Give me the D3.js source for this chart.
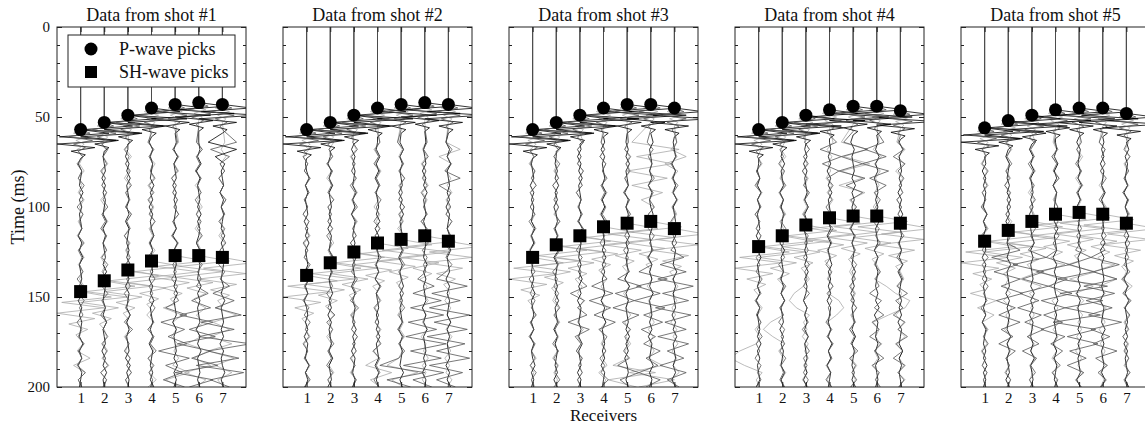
<!DOCTYPE html>
<html>
<head>
<meta charset="utf-8">
<script src="https://d3js.org/d3.v7.min.js"></script>
<style>
body { margin: 0; background: #fff; }
text { font-family: "Liberation Serif", "Times New Roman", serif; fill: #111; }
</style>
</head>
<body>
<div id="my_dataviz"></div>
<script>
// ---- data ----
var shots = ["Data from shot #1", "Data from shot #2", "Data from shot #3", "Data from shot #4", "Data from shot #5"];
var receivers = [1, 2, 3, 4, 5, 6, 7];
var yTicks = [0, 50, 100, 150, 200];

// picks (ms), one row per shot, one value per receiver
var pPicks = [
  [57, 53, 49, 45, 43, 42, 43],
  [57, 53, 49, 45, 43, 42, 43],
  [57, 53, 49, 45, 43, 43, 45],
  [57, 53, 49, 46, 44, 44, 46.5],
  [56, 52, 49, 46, 45, 45, 48]
];
var shPicks = [
  [147, 141, 135, 130, 127, 127, 128],
  [138, 131, 125, 120, 118, 116, 119],
  [128, 121, 116, 111, 109, 108, 112],
  [122, 116, 110, 106, 105, 105, 109],
  [119, 113, 108, 104, 103, 104, 109]
];

// wavelets: [ms after pick, amplitude in receiver spacings]
var pWaveZ = [[0, 0], [2, 1.2], [4, -0.9], [6, 1.5], [8, -1.0], [10, 0.6], [12, -0.4], [14, 0.2], [16, 0]];
var pWaveR = [[0, 0], [2, 0.4], [4, -0.5], [6, 0.5], [8, -0.3], [10, 0.2], [12, -0.1], [14, 0]];
var pWaveT = [[0, 0], [2, -0.3], [4, 0.3], [6, -0.2], [8, 0.15], [10, 0]];
var shWaveT = [[0, 0], [3, 1.3], [6, -0.8], [9, 1.0], [12, -1.0], [15, 0.6], [18, -0.5], [21, 0.3], [24, -0.2], [27, 0]];

// coda samples every 4 ms from 64 ms, in twentieths of a receiver spacing
var codaStart = 64, codaStep = 4, codaUnit = 0.05;

var codaZ = [
  [[2,-1,1,-2,1,0,-1,2,-1,1,-1,0,1,-2,1,-1,2,-1,0,1,-1,2,-2,1,-1,1,0,-1,2,-1,1,-2,1,0,-1],
   [-1,2,-1,0,1,-2,1,-1,1,0,-1,2,-1,1,-1,0,1,-1,2,-2,1,0,-1,1,-1,2,-1,0,1,-2,1,-1,2,-1,0],
   [1,0,-2,1,-1,2,-1,0,1,-1,1,-2,1,0,-1,1,-1,2,-1,1,-2,1,0,-1,2,-1,1,-1,0,1,-2,2,-1,1,0],
   [-2,1,-1,1,0,-1,2,-1,1,-2,1,-1,0,2,-1,1,-1,0,1,-2,1,-1,2,-1,0,1,-1,1,-2,1,0,-1,1,-1,2],
   [1,-1,2,-1,0,1,-2,1,-1,1,0,-1,1,-2,2,-1,0,1,-1,1,-1,2,-1,0,1,-2,1,-1,0,1,-1,2,-1,1,-1],
   [0,1,-1,2,-2,1,-1,0,1,-1,2,-1,1,0,-2,1,-1,1,0,-1,2,-1,1,-1,0,1,-2,1,-1,2,-1,0,1,-1,1],
   [-12,12,-6,2,-1,0,1,-2,1,-1,1,0,-1,2,-1,1,-2,1,0,-1,1,-1,2,-1,0,1,-1,1,-2,1,-1,0,2,-1,1]],
  [[1,-2,1,-1,0,2,-1,1,-1,0,1,-2,1,-1,2,-1,0,1,-1,2,-1,1,-2,0,1,-1,1,-2,1,0,-1,2,-1,1,-1],
   [-1,1,0,-2,1,-1,2,-1,0,1,-1,1,-2,1,0,-1,2,-1,1,-1,0,2,-1,1,-2,1,-1,0,1,-1,2,-1,0,1,-2],
   [2,-2,1,-1,1,0,-1,2,-1,1,-2,1,0,-1,1,-1,2,-1,0,1,-2,1,-1,1,0,-1,2,-1,1,-2,1,0,-1,1,-1],
   [0,-1,2,-1,1,-2,1,-1,0,1,-1,2,-2,1,-1,0,1,-1,1,-2,2,-1,0,1,-1,1,-1,2,-1,0,1,-2,1,-1,1],
   [-1,2,-1,1,-1,0,1,-2,1,-1,2,-1,0,1,-1,1,-2,1,-1,0,2,-1,1,-1,0,1,-2,1,-1,1,0,-1,2,-1,1],
   [1,-1,0,1,-2,1,-1,2,-1,0,1,-1,1,-2,1,0,-1,2,-1,1,-1,0,1,-2,1,-1,2,-1,0,1,-1,1,-2,1,0],
   [-2,1,-1,2,-1,0,1,-1,1,-2,1,0,-1,1,-1,2,-1,0,1,-2,1,-1,1,0,-1,2,-1,1,-1,0,1,-2,1,-1,2]],
  [[1,-1,2,-1,0,1,-2,1,-1,1,0,-1,2,-1,1,-2,1,0,-1,1,-1,2,-1,0,1,-1,1,-2,1,-1,0,2,-1,1,-1],
   [-2,1,0,-1,1,-1,2,-1,1,-2,0,1,-1,1,-1,2,-2,1,0,-1,1,-1,2,-1,0,1,-2,1,-1,1,0,-1,1,-2,1],
   [0,1,-2,1,-1,2,-1,0,1,-1,1,-1,2,-2,1,0,-1,1,-1,2,-1,1,-2,1,0,-1,1,-1,2,-1,0,1,-2,1,-1],
   [1,-2,1,-1,0,1,-1,2,-1,1,-2,1,-1,0,1,-1,2,-1,1,-1,0,1,-2,1,-1,2,-1,0,1,-1,1,-2,1,0,-1],
   [-1,1,-1,2,-1,0,1,-2,1,-1,1,0,-1,2,-1,1,-1,0,1,-2,2,-1,1,-1,0,1,-1,2,-1,1,-2,0,1,-1,1],
   [2,-1,0,1,-1,1,-2,1,-1,0,2,-1,1,-1,0,1,-2,1,-1,1,-1,2,-1,0,1,-1,1,-2,1,0,-1,2,-1,1,-1],
   [-1,0,1,-2,1,-1,1,-1,2,-1,0,1,-1,1,-2,1,0,-1,2,-1,1,-1,0,1,-2,1,-1,2,-1,0,1,-1,1,-2,1]],
  [[1,-2,1,0,-1,1,-1,2,-1,1,-1,0,1,-2,1,-1,2,-1,0,1,-1,1,-2,1,-1,0,1,-1,2,-1,1,-1,0,1,-2],
   [-1,1,-1,2,-1,0,1,-2,1,-1,1,0,-1,1,-2,2,-1,0,1,-1,1,-1,2,-1,0,1,-2,1,-1,1,0,-1,2,-1,1],
   [2,-1,1,-2,1,-1,0,1,-1,2,-1,1,-2,0,1,-1,1,-1,2,-1,1,0,-2,1,-1,1,-1,2,-1,0,1,-1,1,-2,1],
   [0,1,-1,1,-2,1,-1,2,-1,0,1,-1,1,-2,1,-1,0,2,-1,1,-1,1,-2,1,0,-1,1,-1,2,-1,1,-2,1,0,-1],
   [-2,1,-1,0,1,-1,2,-1,1,-1,0,1,-2,1,-1,1,0,-1,2,-1,1,-2,1,-1,0,1,-1,2,-1,1,0,-1,1,-1,2],
   [1,-1,2,-1,1,-2,0,1,-1,1,-1,2,-1,0,1,-2,1,-1,1,0,-1,1,-1,2,-2,1,0,-1,1,-1,2,-1,0,1,-1],
   [-1,2,-1,0,1,-1,1,-2,1,-1,2,-1,0,1,-1,1,-1,2,-2,1,0,-1,1,-1,1,-2,1,0,-1,2,-1,1,-1,0,1]],
  [[2,-1,0,1,-2,1,-1,1,0,-1,2,-1,1,-1,0,1,-2,1,-1,2,-1,0,1,-1,1,-2,1,0,-1,1,-1,2,-1,1,-1],
   [-1,1,-2,1,0,-1,1,-1,2,-1,1,-2,1,0,-1,1,-1,2,-1,0,1,-2,1,-1,1,0,-1,2,-1,1,-1,0,1,-2,1],
   [1,-2,1,-1,2,-1,0,1,-1,1,-2,1,-1,0,2,-1,1,-1,0,1,-1,2,-1,1,-2,1,0,-1,1,-1,2,-1,0,1,-1],
   [0,1,-1,2,-1,1,-2,1,0,-1,1,-1,2,-1,0,1,-2,1,-1,1,-1,0,2,-1,1,-1,0,1,-2,1,-1,1,0,-1,2],
   [-2,1,0,-1,1,-1,2,-1,1,-2,1,0,-1,1,-1,2,-1,0,1,-1,1,-2,1,-1,0,1,-1,2,-1,1,-1,0,1,-2,1],
   [1,-1,1,-2,1,0,-1,2,-1,1,-1,0,1,-1,2,-2,1,-1,0,1,-1,1,-2,1,0,-1,2,-1,1,-1,0,1,-1,2,-1],
   [-1,2,-1,1,0,-1,1,-2,1,-1,1,0,-1,2,-1,1,-1,0,1,-2,1,-1,2,-1,0,1,-1,1,-2,1,-1,0,1,-1,2]]
];

var codaR = [
  [[3,-2,2,-3,1,-2,3,-1,2,-3,2,-1,1,-2,3,-2,1,-1,2,-3,2,-2,3,-1,2,-3,1,-2,3,-2,1,-3,4,-2,1],
   [-2,3,-1,2,-3,1,-2,2,-1,3,-2,1,-3,2,-1,2,-2,3,-1,1,-2,3,-2,1,-3,2,-1,3,-2,2,-1,3,-3,2,-1],
   [2,-3,1,-2,2,-1,3,-2,1,-2,3,-1,2,-3,1,-1,2,-2,3,-1,2,-3,1,-2,2,-3,4,-2,1,-3,2,-1,3,-2,1],
   [-3,2,-2,1,-1,3,-2,2,-3,1,-2,3,-1,2,-2,1,-3,2,-1,3,-2,1,-2,3,-1,2,-3,2,-1,4,-3,2,-2,1,-1],
   [2,-2,3,-1,2,-3,1,-2,2,-1,3,-2,1,-3,2,-1,2,-2,1,-3,2,-1,3,-8,10,-12,8,-6,10,-14,12,-8,6,-10,8],
   [-2,3,-2,1,-3,2,-1,2,-3,1,-2,2,-1,3,-2,1,-2,3,-1,2,-2,8,-6,10,-16,12,-8,14,-18,10,-6,16,-20,12,-8],
   [12,-10,6,-2,2,-3,1,-2,3,-1,2,-3,2,-1,3,-2,1,-3,2,-2,6,-8,10,-6,16,-18,10,-20,24,-12,14,-22,18,-10,6]],
  [[-2,2,-3,1,-2,3,-1,2,-2,1,-3,2,-1,2,-3,1,-2,3,-1,2,-2,1,-3,2,-2,3,-1,2,-3,1,-2,2,-1,3,-2],
   [3,-1,2,-3,2,-1,1,-2,3,-2,1,-2,2,-3,1,-1,3,-2,2,-1,2,-3,1,-2,4,-3,2,-1,3,-2,1,-3,2,-2,1],
   [-1,3,-2,1,-2,2,-3,1,-1,3,-2,2,-1,2,-3,2,-1,1,-2,3,-1,2,-3,4,-2,1,-2,3,-1,2,-3,1,-2,2,-1],
   [2,-2,1,-3,2,-1,2,-2,3,-1,1,-3,2,-2,1,-1,3,-2,1,-2,3,-1,2,-3,1,-2,2,-1,3,-4,2,-1,2,-3,1],
   [-3,2,-1,2,-2,3,-1,1,-2,3,-2,1,-1,2,-3,2,-1,3,-2,1,-2,2,-1,3,-2,1,-3,2,-2,3,-2,-18,20,-12,8],
   [2,-1,3,-2,1,-2,2,-3,1,-1,2,-3,2,-1,3,-2,2,-1,1,-6,8,-10,14,-12,16,-14,10,-16,18,-12,14,-18,16,-10,6],
   [-2,3,-1,2,-3,10,-8,2,-1,2,-2,3,-1,2,-3,1,-2,3,-2,-10,16,-14,10,-16,18,-12,16,-18,14,-10,18,-16,12,-10,6]],
  [[2,-3,1,-2,2,-1,3,-2,1,-2,2,-3,1,-1,2,-2,3,-1,2,-3,1,-2,2,-1,3,-2,1,-3,2,-1,2,-2,3,-1,1],
   [-1,2,-2,3,-1,2,-3,1,-2,2,-1,3,-2,1,-2,3,-1,2,-3,1,-2,2,-1,3,-2,2,-1,1,-3,2,-2,1,-1,3,-2],
   [3,-2,1,-2,3,-1,2,-3,1,-1,2,-2,3,-1,1,-3,2,-2,1,-1,6,-8,4,-2,6,-10,8,-4,1,-3,2,-1,2,-2,1],
   [-2,1,-3,2,-1,3,-2,1,-2,2,-1,3,-2,1,-3,2,-1,2,-2,3,-10,8,-12,6,-8,10,-4,3,-1,2,-3,1,-2,4,-2],
   [1,-2,3,-1,2,-2,1,-3,2,-1,3,-2,1,-2,2,-3,1,-1,2,-8,12,-10,6,-12,10,-4,3,-2,1,-3,2,-8,10,-6,2],
   [-3,2,-2,1,-1,3,-2,2,-1,3,-2,1,-2,3,-1,2,-3,1,-10,14,-12,8,-14,12,-6,10,-8,4,-6,8,-4,6,-10,8,-4],
   [2,-1,2,-3,1,-2,3,-1,2,-2,1,-3,2,-1,2,-3,8,-12,10,-14,16,-10,12,-16,14,-8,10,-14,12,-6,8,-12,10,-6,4]],
  [[-2,3,-1,2,-2,1,-3,2,-1,2,-3,1,-2,2,-1,3,-2,1,-2,3,-1,2,-3,1,-2,2,-1,3,-2,1,-3,2,-1,2,-2],
   [2,-2,1,-3,2,-1,3,-2,1,-2,2,-1,3,-2,1,-1,2,-3,1,-2,3,-1,2,-2,1,-3,2,-1,2,-2,3,-1,1,-2,2],
   [-1,3,-2,2,-3,1,-2,3,-1,2,-2,1,-3,2,-1,2,-2,3,-1,1,-2,3,-2,1,-1,2,-3,2,-1,3,-2,1,-2,2,-1],
   [6,-8,10,-6,8,-2,3,-1,2,-3,1,-2,3,-1,2,-2,1,-3,2,-1,3,-2,2,-1,1,-3,2,-2,3,-1,2,-2,1,-3,2],
   [-8,12,-10,8,-12,10,-6,8,-2,3,-2,1,-3,2,-1,2,-2,3,-1,2,-3,1,-2,3,-1,2,-3,1,-2,4,-3,2,-1,3,-2],
   [6,-10,8,-12,10,-6,8,-2,3,-1,2,-3,2,-1,3,-2,1,-2,3,-1,2,-6,4,-2,6,-4,2,-6,4,-2,6,-4,2,-1,3],
   [-2,3,-6,4,-2,3,-1,2,-3,1,-2,2,-1,3,-2,1,-3,2,-1,2,-3,6,-4,2,-6,4,-2,6,-4,2,-6,4,-2,3,-1]],
  [[2,-3,1,-2,3,-1,2,-2,1,-3,2,-1,2,-3,1,-2,3,-2,1,-2,3,-1,2,-3,1,-2,2,-1,3,-2,1,-2,2,-1,1],
   [-2,2,-1,3,-2,1,-3,2,-1,2,-2,1,-3,2,-1,10,-14,8,-12,10,-6,12,-10,6,-8,10,-6,4,-8,6,-2,1,-2,2,-1],
   [3,-1,2,-3,1,-2,2,-1,3,-2,1,-2,3,-1,2,-3,12,-16,10,-8,14,-10,6,-12,8,-6,10,-4,6,-8,4,-1,3,-2,1],
   [-1,2,-3,1,-2,3,-2,1,-1,2,-3,2,-1,3,-2,1,-8,12,-16,10,-6,14,-12,8,-10,6,-12,8,-4,6,-2,4,-3,2,-1],
   [2,-2,1,-3,2,-1,3,-2,1,-2,3,-1,2,-2,1,-3,10,-8,12,-18,24,-16,20,-12,18,-22,14,-10,16,-8,6,-10,4,-3,2],
   [-3,2,-1,2,-2,3,-1,1,-3,2,-2,1,-1,3,-2,2,-10,14,-8,12,-16,10,-14,8,-12,16,-10,6,-8,12,-6,4,-4,3,-2],
   [1,-2,3,-1,2,-2,1,-3,2,-1,2,-3,1,-2,3,-1,2,-2,3,-4,2,-3,4,-2,3,-1,2,-3,1,-2,2,-1,3,-2,1]]
];

var codaT = [
  [[2,-3,2,-1,3,-2,1,-2,3,-1,2,-2,1,-3,2,-1,3,-2,2,-1,3,-2,1,-3,4,-2,3,-4,2,-3,8,-6,4,-2,1],
   [-3,2,-1,3,-2,1,-2,2,-3,1,-1,3,-2,2,-1,2,-3,1,-2,3,-1,2,-4,3,-2,4,-3,2,-1,3,-2,4,-3,2,-1],
   [1,-2,3,-2,1,-3,2,-1,2,-2,3,-1,1,-3,2,-2,1,-1,3,-2,2,-4,3,-2,3,-1,2,-3,1,-2,2,-1,3,-2,1],
   [-2,1,-2,3,-1,2,-3,1,-2,2,-1,3,-2,1,-2,3,-1,2,-2,1,-3,2,-1,3,-4,2,-3,2,-1,2,-3,1,-2,4,-3],
   [3,-2,2,-1,3,-3,1,-2,2,-1,3,-2,1,-2,3,-1,2,-3,1,-2,8,-6,4,-10,6,-2,1,-3,2,-1,3,-2,12,-8,4],
   [-1,3,-2,1,-2,2,-3,2,-1,3,-2,1,-3,2,-1,2,-2,3,-1,2,-3,10,-8,6,-2,4,-3,2,-10,8,-4,10,-12,6,-2],
   [2,-1,3,-2,2,-3,1,-2,3,-1,2,-2,1,-3,2,-2,3,-1,2,-8,6,-10,8,-6,12,-8,6,-10,8,-12,10,-6,8,-4,1]],
  [[-2,2,-3,1,-2,3,-1,2,-2,1,-3,2,-1,3,-2,1,-2,2,-3,1,-1,3,-2,4,-3,2,-1,3,-2,1,-2,3,-1,2,-2],
   [3,-1,2,-2,1,-3,2,-1,3,-2,1,-2,2,-1,3,-2,1,-3,2,-2,4,-3,2,-4,3,-1,2,-3,1,-2,2,-1,3,-2,1],
   [-1,2,-3,1,-2,2,-1,3,-2,1,-2,3,-1,2,-3,1,-2,2,-3,4,-2,3,-1,2,-3,1,-2,3,-1,2,-2,1,-3,2,-1],
   [2,-3,1,-2,3,-1,2,-2,1,-3,2,-1,2,-2,3,-1,2,-3,1,-2,2,-1,3,-2,1,-2,3,-1,2,-3,1,-10,12,-6,2],
   [-3,1,-2,2,-1,3,-2,1,-2,3,-1,2,-3,2,-1,2,-3,1,-2,3,-1,2,-2,1,-3,2,-1,3,-2,1,-2,-12,14,-8,2],
   [1,-2,2,-3,1,-1,3,-2,2,-1,2,-3,1,-2,3,-1,2,-2,1,-3,2,-1,3,-2,1,-2,2,-3,1,-1,3,-2,1,-2,2],
   [-2,10,-8,3,-2,2,-1,3,-2,1,-2,3,-1,2,-3,1,-2,2,-1,3,-2,1,-3,2,-1,2,-2,3,-1,2,-3,1,-2,3,-1]],
  [[2,-2,1,-3,2,-1,3,-2,1,-2,2,-1,3,-2,1,-3,2,-1,2,-2,1,-3,2,-1,3,-2,1,-2,2,-1,3,-2,1,-1,2],
   [-1,3,-2,1,-2,2,-3,1,-1,2,-2,3,-1,2,-3,1,-2,3,-1,2,-2,1,-3,2,-1,3,-2,2,-1,1,-3,2,-2,1,-1],
   [3,-2,1,-2,3,-1,2,-3,1,-2,2,-1,3,-2,2,-1,1,-3,2,-1,2,-2,3,-1,1,-2,3,-2,1,-3,2,-1,2,-2,1],
   [-2,1,-3,2,-1,2,-2,3,-1,1,-3,2,-2,1,-1,3,-2,2,-1,3,-2,1,-2,3,-1,2,-3,1,-2,2,-1,3,-4,2,-1],
   [1,-2,2,-1,3,-2,1,-3,2,-1,2,-2,1,-3,2,-1,3,-2,1,-2,2,-3,1,-1,3,-2,2,-1,3,-2,1,-12,24,-16,8],
   [-16,24,-12,18,-20,14,-16,10,-8,3,-2,1,-3,2,-1,2,-2,3,-1,1,-3,2,-2,1,-1,3,-2,2,-1,3,-2,10,-18,20,-10],
   [2,-3,10,-8,3,-2,1,-2,3,-1,2,-2,1,-3,2,-1,2,-3,1,-2,3,-1,2,-2,1,-3,2,-1,3,-2,2,-1,4,-3,2]],
  [[-2,2,-1,3,-2,1,-2,3,-1,2,-3,1,-2,2,-1,3,-2,1,-3,2,-1,2,-2,3,-1,2,-3,1,-2,-16,-24,-12,3,-2,1],
   [2,-1,3,-2,1,-2,2,-3,1,-1,3,-2,1,-2,2,-1,3,-2,1,-3,2,-1,2,-2,1,-10,-16,-8,2,-3,1,-2,3,-1,2],
   [-1,3,-2,1,-3,2,-1,2,-2,1,-3,2,-1,3,-2,1,-2,2,-1,3,-2,-10,-14,-8,3,-2,1,-3,2,-1,2,-2,1,-3,2],
   [3,-2,2,-1,1,-3,2,-2,3,-1,2,-2,1,-3,2,-1,2,-3,1,-2,3,-1,8,12,6,-2,1,-2,3,-1,2,-3,1,-2,2],
   [-10,12,-8,14,-10,8,-12,10,-3,2,-1,3,-2,1,-2,3,-1,2,-3,1,-2,2,-1,3,-2,1,-3,2,-1,2,-2,3,-1,2,-2],
   [2,-3,4,-2,3,-1,2,-2,1,-3,2,-1,3,-2,1,-2,2,-1,3,-2,8,16,28,24,10,-3,2,-1,3,-2,1,-3,2,-1,2],
   [-3,4,-2,3,-4,2,-1,2,-3,1,-2,3,-1,2,-2,1,-3,2,-1,3,-2,1,-2,2,-4,3,-2,4,-3,2,-1,3,-2,4,-2]],
  [[2,-2,1,-3,2,-1,3,-2,1,-2,2,-1,3,-2,1,-3,2,-10,12,-14,8,-12,10,-6,8,-2,3,-1,2,-3,1,-2,2,-1,1],
   [-1,3,-2,1,-2,2,-3,1,-1,2,-2,3,-1,2,-3,1,-2,3,-8,10,-3,2,-4,3,-2,1,-3,2,-1,2,-2,1,-3,2,-1],
   [3,-2,2,-1,3,-2,1,-3,2,-1,2,-2,3,-1,1,-3,2,-8,6,-10,8,-2,3,-1,2,-2,1,-3,2,-1,3,-2,1,-2,2],
   [-2,1,-3,2,-1,3,-2,1,-2,2,-1,3,-2,1,-3,2,-1,8,-12,3,-4,5,-3,2,-1,3,-2,2,-1,1,-3,2,-2,1,-1],
   [1,-2,3,-1,2,-3,1,-2,2,-1,3,-2,1,-2,3,-1,2,-10,14,-8,12,-3,4,-2,3,-1,2,-2,1,-3,2,-1,3,-2,1],
   [-3,2,-1,2,-2,1,-3,2,-1,3,-2,1,-2,2,-1,3,-2,10,-8,12,-3,2,-4,3,-1,2,-3,1,-2,2,-1,3,-2,1,-2],
   [2,-1,3,-2,1,-2,2,-3,1,-1,3,-2,2,-1,2,-3,1,-2,4,-3,5,-2,3,-1,2,-2,1,-3,2,-1,2,-2,3,-1,1]]
];

// ---- layout ----
var W = 1145, H = 423;
var panelW = 189, panelGap = 226, left0 = 57, topY = 27, bottomY = 387;

var svg = d3.select("#my_dataviz").append("svg")
  .attr("width", W).attr("height", H);

var y = d3.scaleLinear().domain([0, 200]).range([topY, bottomY]);

// build the points of one trace from pick, wavelet and coda samples
function tracePoints(pick, wave, coda, sh) {
  var pts = [[0, 0], [pick, 0]];
  wave.forEach(function(w) { pts.push([pick + w[0], w[1]]); });
  var waveEnd = pick + wave[wave.length - 1][0];
  var shEnd = sh != null ? sh + shWaveT[shWaveT.length - 1][0] : -1;
  coda.forEach(function(v, i) {
    var t = codaStart + i * codaStep;
    if (t <= waveEnd || t > 200) return;
    if (sh != null && t >= sh && t <= shEnd) return;
    pts.push([t, v * codaUnit]);
  });
  if (sh != null) shWaveT.forEach(function(w) { pts.push([sh + w[0], w[1]]); });
  pts.sort(function(a, b) { return a[0] - b[0]; });
  return pts;
}

// drawing order: light gray, black, dark gray
var comps = [
  {color: "#aaaaaa", wave: pWaveT, coda: codaT, sh: true},
  {color: "#000000", wave: pWaveZ, coda: codaZ, sh: false},
  {color: "#555555", wave: pWaveR, coda: codaR, sh: false}
];

shots.forEach(function(title, s) {
  var x0 = left0 + s * panelGap;
  var x = d3.scaleLinear().domain([0, 8]).range([x0, x0 + panelW]);
  var g = svg.append("g");

  g.append("clipPath").attr("id", "clip" + s)
    .append("rect").attr("x", x0).attr("y", topY).attr("width", panelW).attr("height", bottomY - topY);

  var traces = g.append("g").attr("clip-path", "url(#clip" + s + ")");
  comps.forEach(function(c) {
    receivers.forEach(function(r, k) {
      var pts = tracePoints(pPicks[s][k], c.wave, c.coda[s][k], c.sh ? shPicks[s][k] : null);
      var line = d3.line()
        .x(function(d) { return x(r + d[1]); })
        .y(function(d) { return y(d[0]); });
      traces.append("path")
        .attr("d", line(pts))
        .attr("fill", "none")
        .attr("stroke", c.color)
        .attr("stroke-width", 0.8);
    });
  });

  // picks
  g.selectAll(".pp").data(receivers).enter().append("circle")
    .attr("cx", function(r) { return x(r); })
    .attr("cy", function(r, k) { return y(pPicks[s][k]); })
    .attr("r", 6.5).attr("fill", "#000");
  g.selectAll(".sp").data(receivers).enter().append("rect")
    .attr("x", function(r) { return x(r) - 6.5; })
    .attr("y", function(r, k) { return y(shPicks[s][k]) - 6.5; })
    .attr("width", 13).attr("height", 13).attr("fill", "#000");

  // axes: inward ticks
  var minor = d3.range(0, 201, 10).filter(function(v) { return v % 50 !== 0; });
  g.append("g").attr("transform", "translate(" + x0 + ",0)")
    .call(d3.axisLeft(y).tickValues(yTicks).tickSize(-5).tickSizeOuter(0).tickPadding(7)
      .tickFormat(s === 0 ? d3.format("d") : function() { return ""; }));
  g.append("g").attr("transform", "translate(" + x0 + ",0)")
    .call(d3.axisLeft(y).tickValues(minor).tickSize(-3).tickSizeOuter(0).tickFormat(""));
  g.append("g").attr("transform", "translate(" + (x0 + panelW) + ",0)")
    .call(d3.axisRight(y).tickValues(yTicks).tickSize(-5).tickSizeOuter(0).tickFormat(""));
  g.append("g").attr("transform", "translate(" + (x0 + panelW) + ",0)")
    .call(d3.axisRight(y).tickValues(minor).tickSize(-3).tickSizeOuter(0).tickFormat(""));
  g.append("g").attr("transform", "translate(0," + bottomY + ")")
    .call(d3.axisBottom(x).tickValues(receivers).tickSize(-5).tickSizeOuter(0).tickPadding(5).tickFormat(d3.format("d")));
  g.append("g").attr("transform", "translate(0," + topY + ")")
    .call(d3.axisTop(x).tickValues(receivers).tickSize(-5).tickSizeOuter(0).tickFormat(""));

  g.selectAll(".domain").remove();
  g.selectAll(".tick line").attr("stroke", "#222");
  g.selectAll(".tick text").style("font-family", '"Liberation Serif", serif').style("font-size", "15px").attr("fill", "#222");

  g.append("rect").attr("x", x0).attr("y", topY).attr("width", panelW).attr("height", bottomY - topY)
    .attr("fill", "none").attr("stroke", "#222").attr("stroke-width", 1);

  g.append("text").attr("x", x0 + panelW / 2).attr("y", 21)
    .attr("text-anchor", "middle").style("font-size", "18px").text(title);
});

// legend (first panel)
var leg = svg.append("g");
leg.append("rect").attr("x", 68).attr("y", 35).attr("width", 167).attr("height", 52)
  .attr("fill", "#fff").attr("stroke", "#222").attr("stroke-width", 1);
leg.append("circle").attr("cx", 91).attr("cy", 49).attr("r", 6.5).attr("fill", "#000");
leg.append("rect").attr("x", 85).attr("y", 66).attr("width", 12).attr("height", 12).attr("fill", "#000");
leg.append("text").attr("x", 119).attr("y", 55).style("font-size", "18px").text("P-wave picks");
leg.append("text").attr("x", 119).attr("y", 78).style("font-size", "18px").text("SH-wave picks");

// axis titles
svg.append("text").attr("transform", "translate(24," + ((topY + bottomY) / 2) + ") rotate(-90)")
  .attr("text-anchor", "middle").style("font-size", "18px").text("Time (ms)");
svg.append("text").attr("x", left0 + 2 * panelGap + panelW / 2).attr("y", 421)
  .attr("text-anchor", "middle").style("font-size", "17px").text("Receivers");
</script>
</body>
</html>
